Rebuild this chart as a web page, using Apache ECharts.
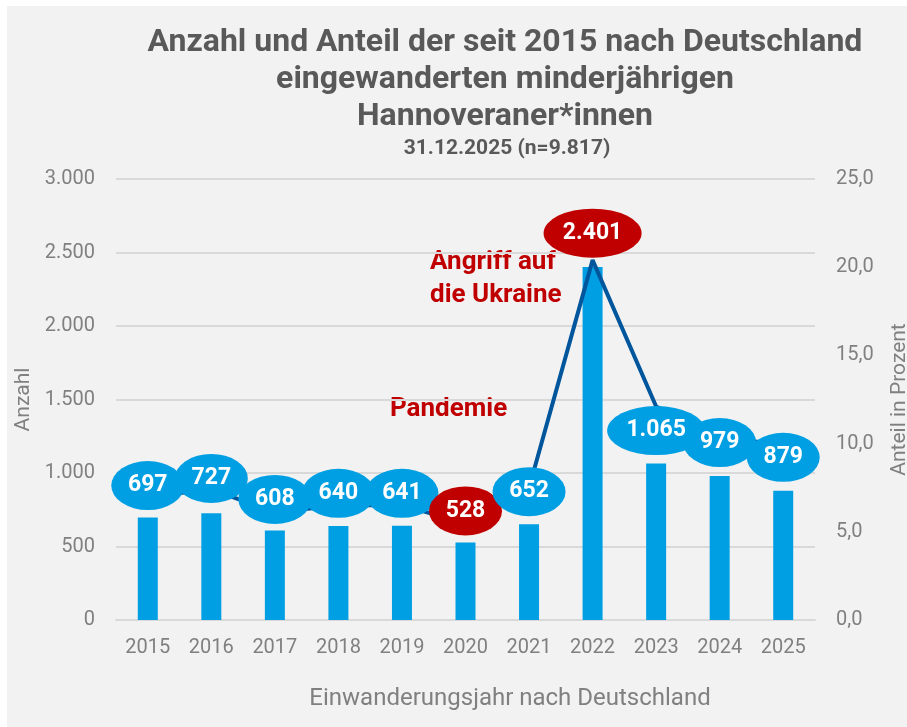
<!DOCTYPE html>
<html>
<head>
<meta charset="utf-8">
<script src="https://cdn.jsdelivr.net/npm/echarts@6/dist/echarts.min.js"></script>
<style>
    html, body { margin: 0; padding: 0; background: #ffffff; }
    #chart { position: absolute; left: 7px; top: 6px; width: 900px; height: 721px; }
</style>
</head>
<body>
<div id="chart"></div>
<script>
// Einwanderungsjahre
var years = ['2015', '2016', '2017', '2018', '2019', '2020', '2021', '2022', '2023', '2024', '2025'];
// Anzahl (Balken, linke Achse)
var counts = [697, 727, 608, 640, 641, 528, 652, 2401, 1065, 979, 879];
// Anteil in Prozent (Linie, rechte Achse) - aus dem Bild geschaetzt
var shares = [7.0, 7.4, 6.1, 6.5, 6.5, 5.5, 7.5, 20.4, 12.1, 10.4, 9.9];
// rot hervorgehobene Jahre
var redYears = ['2020', '2022'];

// Verschiebung der Ellipsen-Beschriftung (px), nur Darstellung
var labelShift = [-11, -11, -13, -12, -12, -12, 4, -27, 24, 6, 12];

var FONT = '"Liberation Sans Narrow", "Roboto", sans-serif';
var BLUE = '#009fe3';
var RED = '#c00000';
var GRAY = '#808080';
var ELLIPSE = 'path://M0,50A50,50,0,1,1,100,50A50,50,0,1,1,0,50Z';

function fmtCount(v) {
    return String(v).replace(/\B(?=(\d{3})+(?!\d))/g, '.');
}

var chart = echarts.init(document.getElementById('chart'));

var lineData = shares.map(function (v, i) {
    return {
        value: v,
        symbolOffset: [0, labelShift[i]],
        symbolSize: counts[i] >= 1000 ? [98, 49] : [73, 49],
        itemStyle: {color: redYears.indexOf(years[i]) >= 0 ? RED : BLUE}
    };
});

var option = {
    backgroundColor: '#f2f2f2',
    animation: false,
    title: [
        {
            text: 'Anzahl und Anteil der seit 2015 nach Deutschland\neingewanderten minderjährigen\nHannoveraner*innen',
            left: 493,
            top: 13,
            textAlign: 'center',
            textStyle: {
                fontFamily: FONT,
                fontWeight: 'bold',
                fontSize: 32,
                lineHeight: 37,
                color: '#595959'
            }
        },
        {
            text: '31.12.2025 (n=9.817)',
            left: 495,
            top: 127,
            textAlign: 'center',
            textStyle: {
                fontFamily: FONT,
                fontWeight: 'bold',
                fontSize: 21,
                color: '#595959'
            }
        }
    ],
    grid: {left: 109, right: 92, top: 173, bottom: 107, outerBoundsMode: 'none', containLabel: false},
    xAxis: {
        type: 'category',
        data: years,
        axisLine: {lineStyle: {color: '#d9d9d9', width: 2}},
        axisTick: {show: false},
        axisLabel: {color: GRAY, fontFamily: 'Roboto', fontSize: 20, margin: 18},
        name: 'Einwanderungsjahr nach Deutschland',
        nameLocation: 'middle',
        nameGap: 67,
        nameTextStyle: {color: GRAY, fontFamily: FONT, fontSize: 24, padding: [0, 0, 0, 89]}
    },
    yAxis: [
        {
            type: 'value',
            min: 0,
            max: 3000,
            interval: 500,
            name: 'Anzahl',
            nameLocation: 'middle',
            nameGap: 78,
            nameTextStyle: {color: GRAY, fontFamily: 'Roboto', fontSize: 21},
            axisLabel: {color: GRAY, fontFamily: 'Roboto', fontSize: 20, margin: 21, formatter: fmtCount},
            splitLine: {lineStyle: {color: '#d9d9d9', width: 2}}
        },
        {
            type: 'value',
            min: 0,
            max: 25,
            interval: 5,
            name: 'Anteil in Prozent',
            nameLocation: 'middle',
            nameGap: 74,
            nameRotate: 90,
            nameTextStyle: {color: GRAY, fontFamily: 'Roboto', fontSize: 21},
            axisLabel: {
                color: GRAY, fontFamily: 'Roboto', fontSize: 20, margin: 21,
                formatter: function (v) { return v.toFixed(1).replace('.', ','); }
            },
            splitLine: {show: false}
        }
    ],
    series: [
        {
            name: 'Anzahl',
            type: 'bar',
            yAxisIndex: 0,
            barWidth: 20,
            itemStyle: {color: BLUE},
            silent: true,
            data: counts
        },
        {
            name: 'Anteil',
            type: 'line',
            yAxisIndex: 1,
            symbol: ELLIPSE,
            showAllSymbol: true,
            silent: true,
            lineStyle: {color: '#00569c', width: 4},
            label: {
                show: true,
                position: 'inside',
                color: '#ffffff',
                fontFamily: FONT,
                fontWeight: 'bold',
                fontSize: 23,
                formatter: function (p) { return fmtCount(counts[p.dataIndex]); }
            },
            data: lineData
        }
    ],
    graphic: [
        {
            type: 'text',
            left: 423,
            top: 240,
            style: {
                text: 'Angriff auf\ndie Ukraine',
                fill: RED,
                font: 'bold 26px ' + FONT,
                lineHeight: 33
            }
        },
        {
            type: 'text',
            left: 383,
            top: 390,
            style: {
                text: 'Pandemie',
                fill: RED,
                font: 'bold 26px ' + FONT
            }
        }
    ]
};
chart.setOption(option);
</script>
</body>
</html>
